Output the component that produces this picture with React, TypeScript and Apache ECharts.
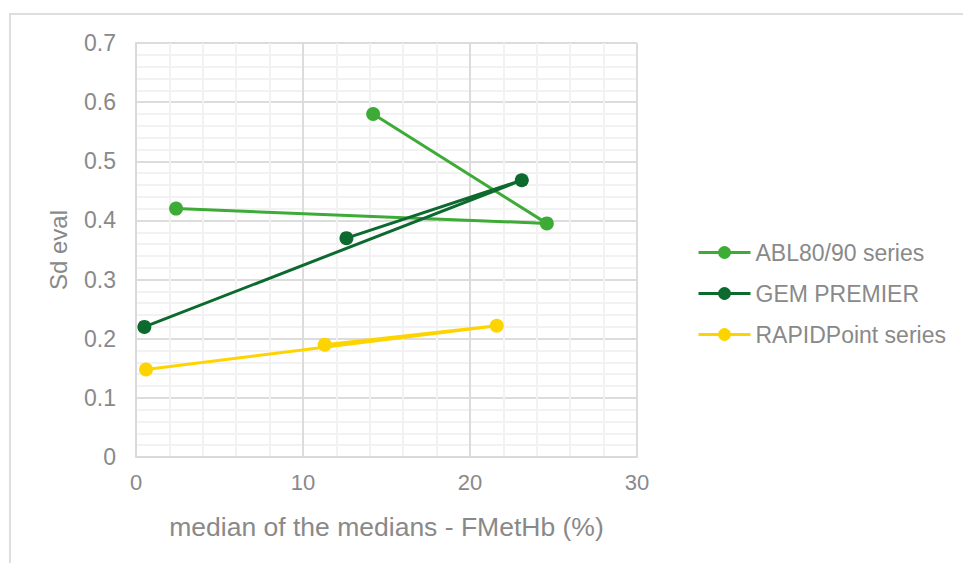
import React, { useEffect, useRef } from "react";
import * as echarts from "echarts";

const seriesNames = ["ABL80/90 series", "GEM PREMIER", "RAPIDPoint series"];
const ablX = [2.4, 24.6, 14.2];
const ablY = [0.42, 0.395, 0.58];
const gemX = [0.5, 23.1, 12.6];
const gemY = [0.22, 0.468, 0.37];
const rapX = [0.6, 21.6, 11.3];
const rapY = [0.148, 0.222, 0.19];
const colors = ["#3dab36", "#0d6a2f", "#fed400"];

const xTitle = "median of the medians - FMetHb (%)";
const yTitle = "Sd eval";

const pairs = (xs: number[], ys: number[]) => xs.map((x, i) => [x, ys[i]]);

export default function App() {
  const ref = useRef<HTMLDivElement>(null);
  useEffect(() => {
    if (!ref.current) return;
    const chart = echarts.init(ref.current, undefined, { renderer: "svg" });
    const font = "'Liberation Sans', Arial, sans-serif";
    const textColor = "#898989";
    const data = [pairs(ablX, ablY), pairs(gemX, gemY), pairs(rapX, rapY)];
    chart.setOption({
      animation: false,
      textStyle: { fontFamily: font },
      graphic: [
        {
          type: "rect",
          shape: { x: 10, y: 14, width: 1000, height: 600 },
          style: { fill: "none", stroke: "#dedede", lineWidth: 2 },
          silent: true,
        },
      ],
      grid: { left: 136, right: 326, top: 43, bottom: 106 },
      legend: {
        orient: "vertical",
        left: 692,
        top: 236,
        itemWidth: 52,
        itemHeight: 16,
        itemGap: 18,
        itemStyle: { borderWidth: 0 },
        lineStyle: { width: 3 },
        textStyle: { color: textColor, fontSize: 23, fontFamily: font },
        data: seriesNames,
      },
      xAxis: {
        type: "value",
        min: 0,
        max: 30,
        interval: 10,
        name: xTitle,
        nameLocation: "middle",
        nameGap: 56,
        nameTextStyle: { color: textColor, fontSize: 26.5, fontFamily: font },
        axisLine: { show: true, lineStyle: { color: "#d9d9d9", width: 2 } },
        axisTick: { show: false },
        axisLabel: { color: textColor, fontSize: 22, margin: 14, fontFamily: font },
        splitLine: { show: true, lineStyle: { color: "#dcdcdc", width: 2 } },
        minorTick: { show: false, splitNumber: 5 },
        minorSplitLine: { show: true, lineStyle: { color: "#f2f2f2", width: 2 } },
      },
      yAxis: {
        type: "value",
        min: 0,
        max: 0.7,
        interval: 0.1,
        name: yTitle,
        nameLocation: "middle",
        nameGap: 66,
        nameTextStyle: { color: textColor, fontSize: 24, fontFamily: font },
        axisLine: { show: true, lineStyle: { color: "#d9d9d9", width: 2 } },
        axisTick: { show: false },
        axisLabel: { color: textColor, fontSize: 23, margin: 20, fontFamily: font },
        splitLine: { show: true, lineStyle: { color: "#dcdcdc", width: 2 } },
        minorTick: { show: false, splitNumber: 5 },
        minorSplitLine: { show: true, lineStyle: { color: "#f2f2f2", width: 2 } },
      },
      series: seriesNames.map((name, i) => ({
        name,
        type: "line",
        data: data[i],
        symbol: "circle",
        symbolSize: 14,
        lineStyle: { color: colors[i], width: 3 },
        itemStyle: { color: colors[i] },
      })),
    });
    return () => chart.dispose();
  }, []);
  return (
    <div
      ref={ref}
      style={{ position: "fixed", left: 0, top: 0, width: 963, height: 563, background: "#fff" }}
    />
  );
}
